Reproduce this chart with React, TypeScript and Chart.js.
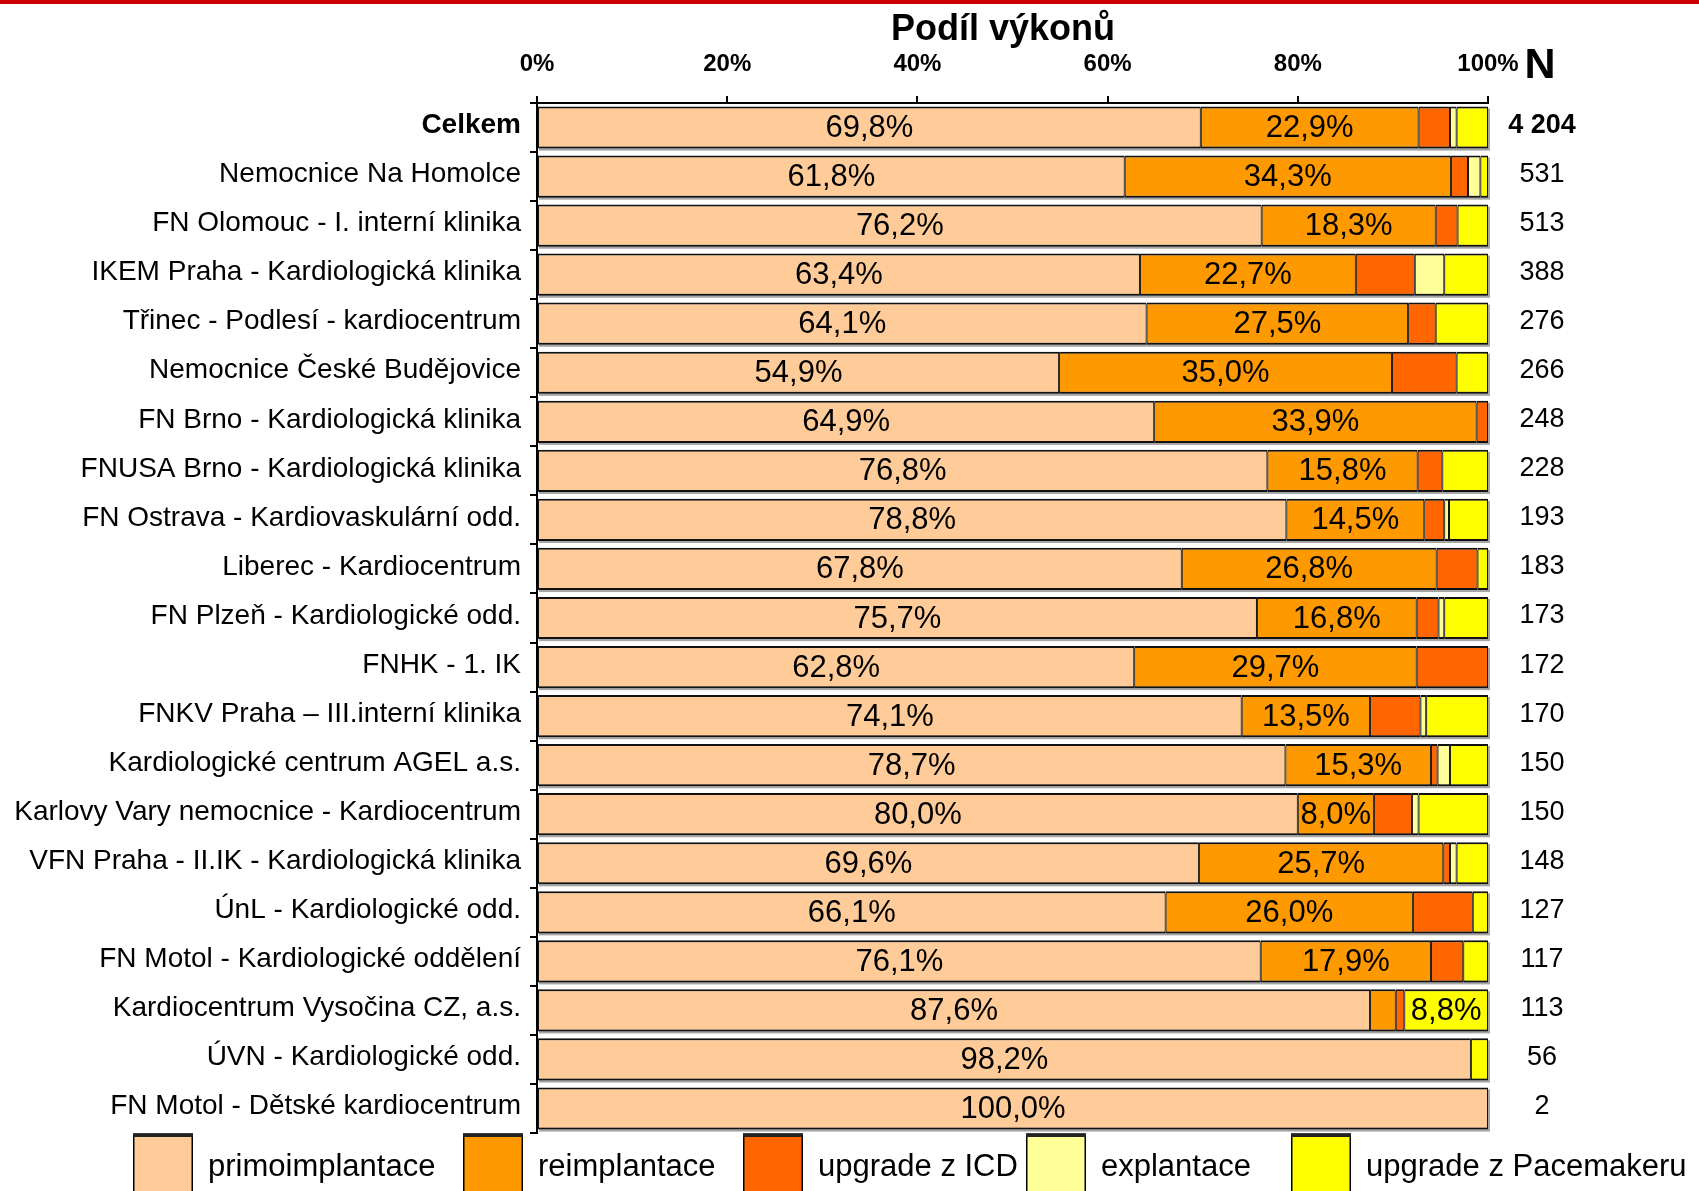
import React, { useEffect, useRef } from 'react';
import { Chart, registerables } from 'chart.js';

Chart.register(...registerables);

const categories = [
  'Celkem',
  'Nemocnice Na Homolce',
  'FN Olomouc - I. interní klinika',
  'IKEM Praha - Kardiologická klinika',
  'Třinec - Podlesí - kardiocentrum',
  'Nemocnice České Budějovice',
  'FN Brno - Kardiologická klinika',
  'FNUSA Brno - Kardiologická klinika',
  'FN Ostrava - Kardiovaskulární odd.',
  'Liberec - Kardiocentrum',
  'FN Plzeň - Kardiologické odd.',
  'FNHK - 1. IK',
  'FNKV Praha – III.interní klinika',
  'Kardiologické centrum AGEL a.s.',
  'Karlovy Vary nemocnice - Kardiocentrum',
  'VFN Praha - II.IK - Kardiologická klinika',
  'ÚnL - Kardiologické odd.',
  'FN Motol - Kardiologické oddělení',
  'Kardiocentrum Vysočina CZ, a.s.',
  'ÚVN - Kardiologické odd.',
  'FN Motol - Dětské kardiocentrum',
];

const primoimplantace = [69.8, 61.8, 76.2, 63.4, 64.1, 54.9, 64.9, 76.8, 78.8, 67.8, 75.7, 62.8, 74.1, 78.7, 80.0, 69.6, 66.1, 76.1, 87.6, 98.2, 100.0];
const reimplantace = [22.9, 34.3, 18.3, 22.7, 27.5, 35.0, 33.9, 15.8, 14.5, 26.8, 16.8, 29.7, 13.5, 15.3, 8.0, 25.7, 26.0, 17.9, 2.7, 0, 0];
const upgradeICD = [3.3, 1.8, 2.3, 6.2, 2.9, 6.8, 1.2, 2.6, 2.1, 4.3, 2.3, 7.5, 5.3, 0.7, 4.0, 0.7, 6.3, 3.4, 0.9, 0, 0];
const explantace = [0.7, 1.3, 0, 3.1, 0, 0, 0, 0, 0.5, 0, 0.6, 0, 0.6, 1.3, 0.7, 0.7, 0, 0, 0, 0, 0];
const upgradePacemaker = [3.3, 0.8, 3.2, 4.6, 5.5, 3.3, 0, 4.8, 4.1, 1.1, 4.6, 0, 6.5, 4.0, 7.3, 3.3, 1.6, 2.6, 8.8, 1.8, 0];

const nValues = ['4 204', '531', '513', '388', '276', '266', '248', '228', '193', '183', '173', '172', '170', '150', '150', '148', '127', '117', '113', '56', '2'];

const seriesNames = ['primoimplantace', 'reimplantace', 'upgrade z ICD', 'explantace', 'upgrade z Pacemakeru'];
const seriesColors = ['#FFCC99', '#FF9900', '#FF6600', '#FFFF99', '#FFFF00'];
const seriesData = [primoimplantace, reimplantace, upgradeICD, explantace, upgradePacemaker];

const titleText = 'Podíl výkonů';
const nHeader = 'N';
const labelThreshold = 8;

const FONT = "'Liberation Sans', Arial, Helvetica, sans-serif";
const W = 1699;
const H = 1191;

const legendBoxX = [133, 463, 743, 1026, 1291];

const fmt = (v: number) => v.toFixed(1).replace('.', ',') + '%';

const decorPlugin = {
  id: 'decor',
  beforeDatasetsDraw(chart: any) {
    const ctx = chart.ctx;
    const xs = chart.scales.x;
    const ys = chart.scales.y;
    const meta0 = chart.getDatasetMeta(0);
    ctx.save();
    ctx.fillStyle = '#a6a6a6';
    categories.forEach((_, i) => {
      const total = seriesData.reduce((s, arr) => s + arr[i], 0);
      const el = meta0.data[i];
      const h = el.height;
      const x0 = xs.getPixelForValue(0);
      const x1 = xs.getPixelForValue(Math.min(total, 100));
      const yc = ys.getPixelForValue(i);
      ctx.fillRect(x0 + 2, yc - h / 2 + 2, x1 - x0, h);
    });
    ctx.restore();
  },
  afterDatasetsDraw(chart: any) {
    const ctx = chart.ctx;
    ctx.save();
    ctx.font = `31px ${FONT}`;
    ctx.fillStyle = '#000';
    ctx.textAlign = 'center';
    ctx.textBaseline = 'middle';
    seriesData.forEach((arr, d) => {
      const meta = chart.getDatasetMeta(d);
      arr.forEach((v, i) => {
        if (v >= labelThreshold) {
          const el = meta.data[i];
          ctx.fillText(fmt(v), (el.x + el.base) / 2, el.y + 1);
        }
      });
    });
    ctx.restore();
  },
  afterDraw(chart: any) {
    const ctx = chart.ctx;
    const ys = chart.scales.y;
    ctx.save();
    // red top line
    ctx.fillStyle = '#CC0000';
    ctx.fillRect(0, 0, W, 4);
    // title
    ctx.fillStyle = '#000';
    ctx.textAlign = 'center';
    ctx.textBaseline = 'alphabetic';
    ctx.font = `bold 36px ${FONT}`;
    ctx.fillText(titleText, 1003, 40);
    // N header
    ctx.font = `bold 43px ${FONT}`;
    ctx.fillText(nHeader, 1540, 78);
    // N values
    ctx.textBaseline = 'middle';
    nValues.forEach((n, i) => {
      ctx.font = `${i === 0 ? 'bold ' : ''}27px ${FONT}`;
      ctx.fillText(n, 1542, ys.getPixelForValue(i) - 2);
    });
    // legend
    const boxTop = 1134;
    const boxW = 60;
    const boxH = 60;
    ctx.textAlign = 'left';
    ctx.font = `31px ${FONT}`;
    seriesNames.forEach((name, i) => {
      const bx = legendBoxX[i];
      ctx.fillStyle = seriesColors[i];
      ctx.fillRect(bx, boxTop, boxW, boxH);
      ctx.strokeStyle = '#000';
      ctx.lineWidth = 1.5;
      ctx.beginPath();
      ctx.moveTo(bx + 0.75, boxTop + boxH);
      ctx.lineTo(bx + 0.75, boxTop);
      ctx.lineTo(bx + boxW - 0.75, boxTop);
      ctx.lineTo(bx + boxW - 0.75, boxTop + boxH);
      ctx.stroke();
      ctx.fillStyle = '#222';
      ctx.fillRect(bx, boxTop, boxW, 3);
      ctx.fillStyle = '#000';
      ctx.fillText(name, bx + boxW + 15, 1167);
    });
    ctx.restore();
  },
};

export default function App() {
  const ref = useRef<HTMLCanvasElement | null>(null);

  useEffect(() => {
    if (!ref.current) return;
    const chart = new Chart(ref.current, {
      type: 'bar',
      data: {
        labels: categories,
        datasets: seriesData.map((arr, d) => ({
          label: seriesNames[d],
          data: arr.map((v) => (v > 0 ? v : null)),
          backgroundColor: seriesColors[d],
          borderColor: '#111',
          borderWidth: { top: 2, bottom: 2, left: 1, right: 1 },
          borderSkipped: false,
          barPercentage: 0.86,
          categoryPercentage: 1.0,
        })),
      },
      options: {
        indexAxis: 'y',
        responsive: false,
        animation: false,
        devicePixelRatio: 1,
        layout: { padding: { top: 0, left: 0, right: W - 1488, bottom: H - 1133 } },
        plugins: {
          legend: { display: false },
          tooltip: { enabled: false },
          title: { display: false },
        },
        scales: {
          x: {
            position: 'top',
            stacked: true,
            min: 0,
            max: 100,
            afterFit: (s: any) => {
              s.height = 103;
            },
            ticks: {
              stepSize: 20,
              callback: (v: any) => v + '%',
              color: '#000',
              padding: 17,
              font: { family: FONT, size: 24, weight: 'bold' },
              maxRotation: 0,
            },
            grid: { drawOnChartArea: false, tickLength: 7, color: '#000', lineWidth: 2 },
            border: { display: true, color: '#000', width: 2 },
          },
          y: {
            stacked: true,
            afterFit: (s: any) => {
              s.width = 537;
            },
            ticks: {
              color: '#000',
              padding: 9,
              labelOffset: -2,
              autoSkip: false,
              font: (c: any) => ({ family: FONT, size: 28, weight: c.index === 0 ? 'bold' : 'normal' }),
            },
            grid: { drawOnChartArea: false, tickLength: 7, color: '#000', lineWidth: 2, offset: true },
            border: { display: true, color: '#000', width: 2 },
          },
        },
      },
      plugins: [decorPlugin],
    } as any);
    return () => chart.destroy();
  }, []);

  return (
    <div style={{ position: 'fixed', left: 0, top: 0, width: W, height: H, background: '#fff' }}>
      <canvas ref={ref} width={W} height={H} style={{ display: 'block', width: W, height: H }} />
    </div>
  );
}
